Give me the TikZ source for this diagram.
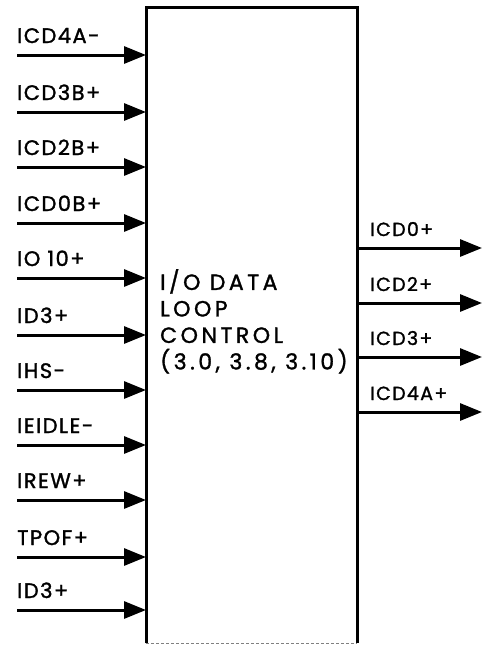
\documentclass[tikz,border=0pt]{standalone}
\usepackage{fontspec}
\setmainfont{Poppins}[LetterSpace=7,FakeBold=1.4]
\newfontfamily\blockfont{Poppins}[LetterSpace=16,FakeBold=1.4]
\usetikzlibrary{arrows.meta,positioning}
\tikzset{
  sig/.style={line width=3pt,-{Triangle[length=22pt,width=17pt]}},
  siglabel/.style={anchor=base west,inner sep=0pt,font=\fontsize{21}{24}\selectfont},
}
\begin{document}
\begin{tikzpicture}[x=1pt,y=-1pt]
 \useasboundingbox (0,0) rectangle (482,646);
 % the loop control block
 \node[minimum width=211pt,minimum height=636pt,inner sep=0pt,anchor=north west] (loop) at (146,7) {};
 \draw[line width=3pt] (loop.south west)--(loop.north west)--(loop.north east)--(loop.south east);
 \draw[line width=.8pt,densely dashed,gray] (loop.south west)--(loop.south east);
 \node[anchor=north west,align=left,inner sep=0pt,font=\blockfont\fontsize{22}{26.5}\selectfont] (txt) at (160,269)
   {I/O DATA\\LOOP\\CONTROL\\(3.0, 3.8, 3.10)};
 % inputs
 \foreach \y/\lab [count=\i] in {55/ICD4A-,112/ICD3B+,167/ICD2B+,223/ICD0B+,278/IO 10+,
     335/ID3+,390/IHS-,445/IEIDLE-,500/IREW+,557/TPOF+,610/ID3+} {
   \coordinate (in\i) at (17,\y);
   \draw[sig] (in\i) -- (in\i -| loop.west);
   \node[siglabel] (inlab\i) at (17,\y-12) {\lab};
 }
 % outputs
 \foreach \y/\lab [count=\i] in {248/ICD0+,303/ICD2+,357/ICD3+,412/ICD4A+} {
   \coordinate (out\i) at (482,\y);
   \draw[sig] (loop.east |- out\i) -- (out\i);
   \node[siglabel,font=\fontsize{19}{24}\selectfont] (outlab\i) at (370,\y-12) {\lab};
 }
\end{tikzpicture}
\end{document}
